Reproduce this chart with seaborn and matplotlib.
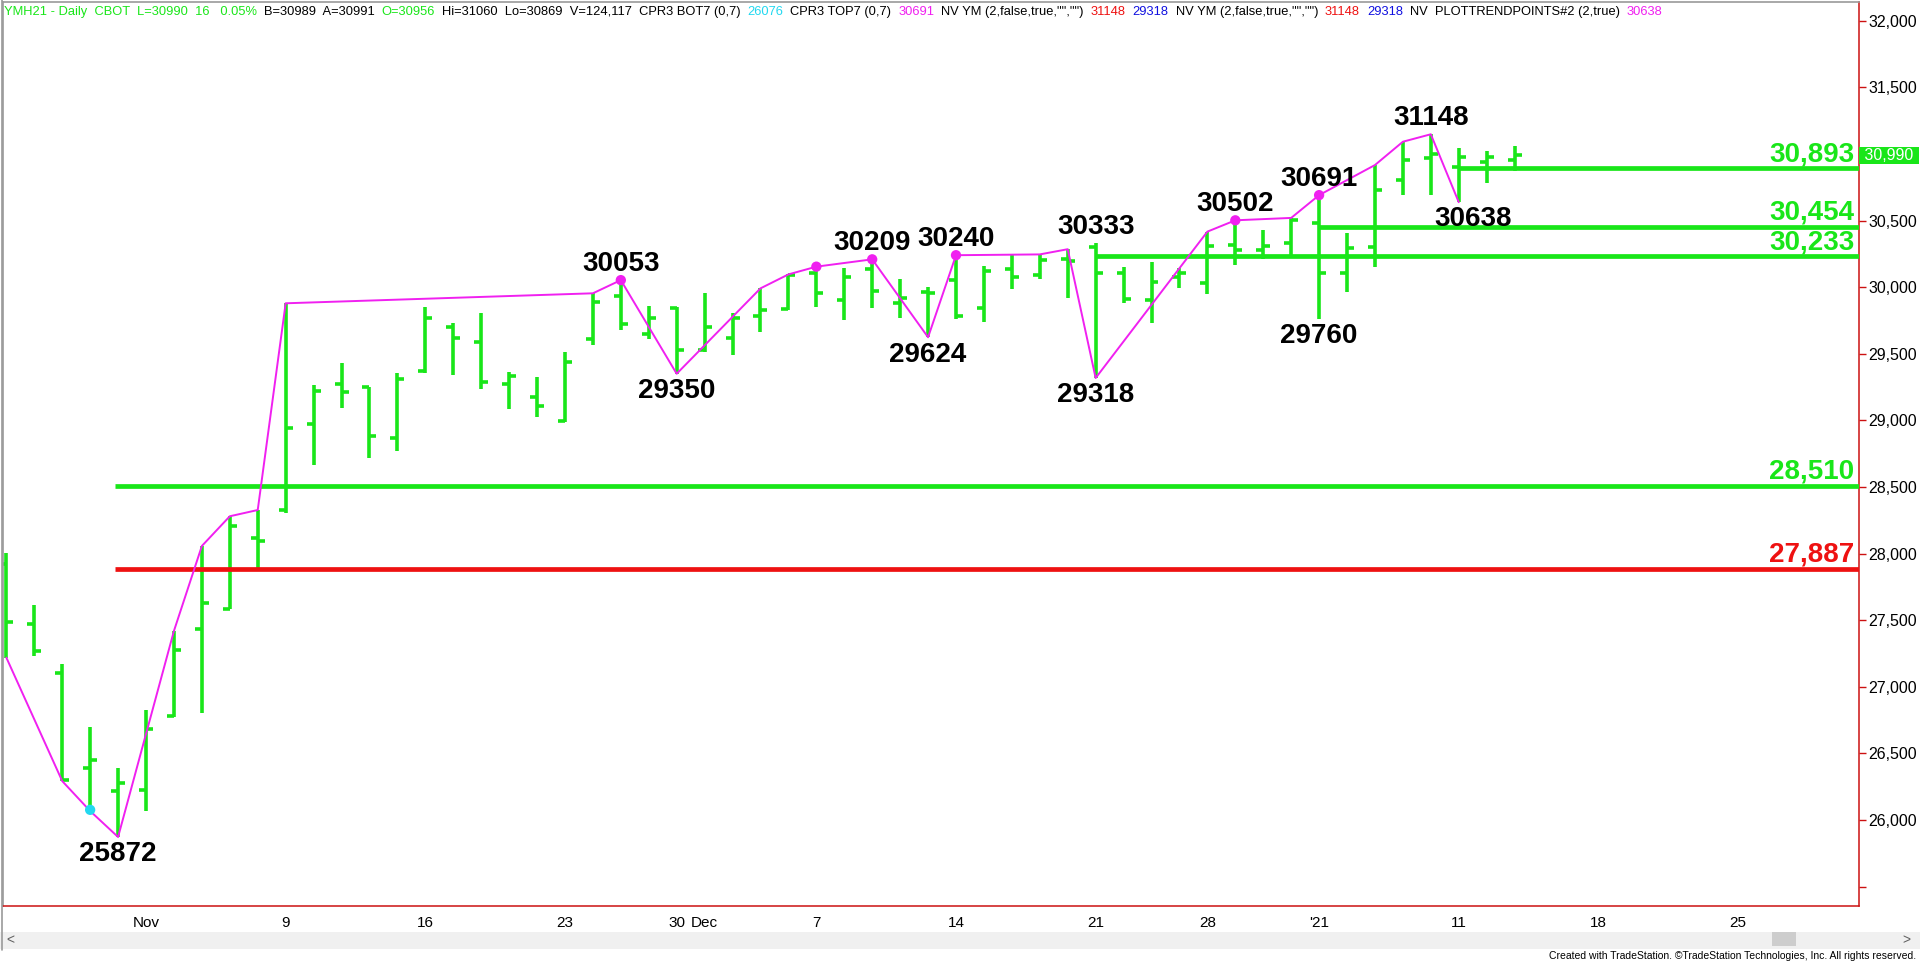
import matplotlib
matplotlib.use("Agg")
import matplotlib.pyplot as plt
import matplotlib.transforms as mtransforms
from matplotlib.patches import Rectangle
from matplotlib.lines import Line2D
import numpy as np
import pandas as pd
import seaborn as sns

# bar index = trading day, 0 = Nov 2 2020 (Oct 26 .. Jan 13)
bar_idx = list(range(-5, 50))

opens = [27919, 27474, 27106, 26393, 26217,
         26225, 26780, 27431, 27585, 28120,
         28327, 28970, 29273, 29248, 28865,
         29370, 29703, 29586, 29273, 29178,
         28997, 29608, 29934, 29648, 29841,
         29530, 29616, 29783, 29833,
         30109, 29904, 30134, 29880, 29961,
         30054, 29843, 30134, 30091, 30210,
         30304, 30104, 29904, 30080,
         30029, 30320, 30279, 30334,
         30484, 30109, 30304, 30805, 30967,
         30900, 30942, 30956]
highs = [28007, 27614, 27168, 26698, 26393,
         26826, 27419, 28057, 28280, 28327,
         29879, 29265, 29428, 29248, 29353,
         29854, 29733, 29804, 29360, 29328,
         29516, 29954, 30053, 29859, 29854,
         29954, 29804, 29991, 30096,
         30154, 30141, 30209, 30059, 29999,
         30240, 30159, 30242, 30246, 30285,
         30333, 30150, 30191, 30145,
         30417, 30502, 30429, 30520,
         30691, 30404, 30917, 31092, 31148,
         31042, 31025, 31060]
lows = [27219, 27230, 26292, 26067, 25872,
        26067, 26776, 26806, 27585, 27894,
        28302, 28665, 29090, 28715, 28772,
        29358, 29340, 29233, 29083, 29023,
        28990, 29566, 29678, 29608, 29350,
        29511, 29491, 29661, 29828,
        29853, 29753, 29841, 29766, 29624,
        29758, 29741, 29984, 30059, 29916,
        29318, 29880, 29728, 29991,
        29945, 30166, 30210, 30229,
        29760, 29966, 30154, 30692, 30692,
        30638, 30780, 30869]
closes = [27489, 27269, 26300, 26450, 26280,
          26685, 27276, 27627, 28207, 28095,
          28940, 29223, 29213, 28885, 29310,
          29771, 29616, 29290, 29335, 29108,
          29441, 29891, 29721, 29771, 29528,
          29703, 29771, 29829, 30090,
          29959, 30074, 29971, 29915, 29954,
          29783, 30124, 30074, 30204, 30200,
          30109, 29909, 30041, 30109,
          30308, 30280, 30308, 30504,
          30109, 30291, 30730, 30955, 31000,
          30980, 30980, 30990]

# swing (trend) line through highs / lows
swing_idx = [-5, -3, -2, -1, 1, 2, 3, 4, 5, 16, 17, 19, 22, 23, 24, 26, 28, 29,
             32, 33, 34, 38, 39, 41, 42, 44, 45, 46, 47]
swing_vals = [27219, 26292, 26067, 25872, 27419, 28057, 28280, 28327, 29879,
              29954, 30053, 29350, 29991, 30096, 30154, 30209, 29624, 30240,
              30246, 30285, 29318, 30417, 30502, 30520, 30691, 30917, 31092,
              31148, 30638]

dot_idx = [17, 24, 26, 29, 39, 42]
dot_vals = [30053, 30154, 30209, 30240, 30502, 30691]
cyan_idx = [-2]
cyan_vals = [26076]

# pivot labels
label_idx = [-1, 17, 19, 26, 28, 29, 34, 34, 39, 42, 42, 46, 47]
label_vals = [25872, 30053, 29350, 30209, 29624, 30240, 30333, 29318, 30502,
              30691, 29760, 31148, 30638]
label_side = ["below", "above", "below", "above", "below", "above", "above",
              "below", "above", "above", "below", "above", "below"]

# support / resistance levels
levels = [30893, 30454, 30233, 28510, 27887]
level_start = [47, 42, 34, -1.1, -1.1]
level_kind = ["g", "g", "g", "g", "r"]

tick_pos = [0, 5, 10, 15, 19, 20, 24, 29, 34, 38, 42, 47, 52, 57]
tick_labels = ["Nov", "9", "16", "23", "30", "Dec", "7", "14", "21", "28",
               "'21", "11", "18", "25"]
y_ticks = list(range(25500, 32001, 500))
last_price = 30990

header_parts = [
    ("YMH21 - Daily  CBOT  L=30990  16   0.05%", "green"),
    ("B=30989  A=30991", "black"),
    ("O=30956", "green"),
    ("Hi=31060  Lo=30869  V=124,117  CPR3 BOT7 (0,7)", "black"),
    ("26076", "cyan"),
    ("CPR3 TOP7 (0,7)", "black"),
    ("30691", "magenta"),
    ('NV YM (2,false,true,"","")', "black"),
    ("31148", "red"),
    ("29318", "blue"),
    ('NV YM (2,false,true,"","")', "black"),
    ("31148", "red"),
    ("29318", "blue"),
    ("NV  PLOTTRENDPOINTS#2 (2,true)", "black"),
    ("30638", "magenta"),
]

GREEN = "#19e619"
RED = "#ee1111"
MAGENTA = "#f020f0"
CYAN = "#22d8f0"
AXRED = "#cc1111"
colors = {"green": GREEN, "black": "black", "cyan": CYAN, "magenta": MAGENTA,
          "red": RED, "blue": "#1010e0", "g": GREEN, "r": RED}

sns.set_style("white")
plt.rcParams["font.family"] = ["Liberation Sans", "DejaVu Sans"]

W, H = 1920, 963
fig = plt.figure(figsize=(W / 100, H / 100), dpi=100)


def fx(x):
    return x / W


def fy(y):
    return 1 - y / H


ax = fig.add_axes([fx(3), fy(906), fx(1859 - 3), (906 - 2) / H])
ax.set_xlim(-5.12, 61.33)
ax.set_ylim(25354, 32141)

# OHLC bars
x = np.array(bar_idx, dtype=float)
ax.vlines(x, lows, highs, color=GREEN, lw=2.6, zorder=2)
ax.hlines(opens, x - 0.25, x, color=GREEN, lw=2.6, zorder=2)
ax.hlines(closes, x, x + 0.25, color=GREEN, lw=2.6, zorder=2)

# level lines + labels
blend = mtransforms.blended_transform_factory(ax.transAxes, ax.transData)
for v, s, k in zip(levels, level_start, level_kind):
    ax.hlines(v, s, 61.33, color=colors[k], lw=3.4, zorder=3)
    ax.annotate(f"{v:,}", xy=(1, v), xycoords=blend, xytext=(-3.5, 5),
                textcoords="offset points", ha="right", va="baseline",
                fontsize=20, fontweight="bold", color=colors[k],
                annotation_clip=False, zorder=6)

# swing line and pivot dots
sns.lineplot(x=swing_idx, y=swing_vals, sort=False, estimator=None,
             color=MAGENTA, lw=1.4, ax=ax, zorder=4)
sns.scatterplot(x=dot_idx, y=dot_vals, color=MAGENTA, s=55, edgecolor="none",
                ax=ax, zorder=5)
sns.scatterplot(x=cyan_idx, y=cyan_vals, color=CYAN, s=55, edgecolor="none",
                ax=ax, zorder=5)

for i, v, side in zip(label_idx, label_vals, label_side):
    dx = 10 if v == 30638 else 0
    dy = 6.5 if side == "above" else -17.5
    ax.annotate(str(v), xy=(i, v), xytext=(dx, dy), textcoords="offset points",
                ha="center", va="baseline", fontsize=20, fontweight="bold",
                color="black", zorder=6)

# axes styling; the 31,000 label sits under the last-price box
ax.yaxis.tick_right()
ax.set_yticks(y_ticks)
ax.set_yticklabels(["" if t in (25500, 31000) else f"{t:,}" for t in y_ticks])
ax.tick_params(axis="y", which="both", direction="out", length=5, width=1,
               color=AXRED, labelsize=11.5, labelcolor="black", pad=2,
               right=True, left=False)
ax.set_xticks(tick_pos)
ax.set_xticklabels(tick_labels)
ax.tick_params(axis="x", direction="out", length=4, width=1, color=AXRED,
               labelsize=11, labelcolor="black", pad=3)
for side in ["bottom", "right"]:
    ax.spines[side].set_color(AXRED)
    ax.spines[side].set_linewidth(1.1)
for side in ["left", "top"]:
    ax.spines[side].set_color("#9a9a9a")
    ax.spines[side].set_linewidth(1.2)
ax.set_xlabel("")
ax.set_ylabel("")
ax.grid(False)

# last price box on the axis
ax.annotate(f" {last_price:,} ", xy=(1, last_price), xycoords=blend,
            xytext=(0.8, 0), textcoords="offset points", ha="left", va="center",
            fontsize=11.5, color="white", annotation_clip=False, zorder=7,
            bbox=dict(boxstyle="square,pad=0.05", fc=GREEN, ec="none"))

# header line
prev = ax.text(fx(4), fy(12), header_parts[0][0], transform=fig.transFigure,
               ha="left", va="center", fontsize=9.3,
               color=colors[header_parts[0][1]])
for txt, c in header_parts[1:]:
    prev = ax.annotate(txt, xy=(1, 0), xycoords=prev, xytext=(5, 0),
                       textcoords="offset points", ha="left", va="bottom",
                       fontsize=9.3, color=colors[c], annotation_clip=False)

# scroll bar and footer
fig.add_artist(Rectangle((0, fy(949)), 1, 17 / H, transform=fig.transFigure,
                         fc="#f0f0f0", ec="none"))
fig.add_artist(Rectangle((fx(1772), fy(946)), fx(24), 14 / H,
                         transform=fig.transFigure, fc="#cdcdcd", ec="none"))
fig.text(fx(10), fy(940), "<", ha="center", va="center", fontsize=10,
         color="#606060")
fig.text(fx(1906), fy(940), ">", ha="center", va="center", fontsize=10,
         color="#606060")
fig.add_artist(Line2D([fx(2), fx(2)], [fy(950), 1], transform=fig.transFigure,
                      color="#9a9a9a", lw=1.2))
fig.text(fx(1916), fy(956),
         "Created with TradeStation. \u00a9TradeStation Technologies, Inc. All rights reserved.",
         ha="right", va="center", fontsize=7.5, color="black")

fig.savefig("out.png", dpi=100, facecolor="white")
